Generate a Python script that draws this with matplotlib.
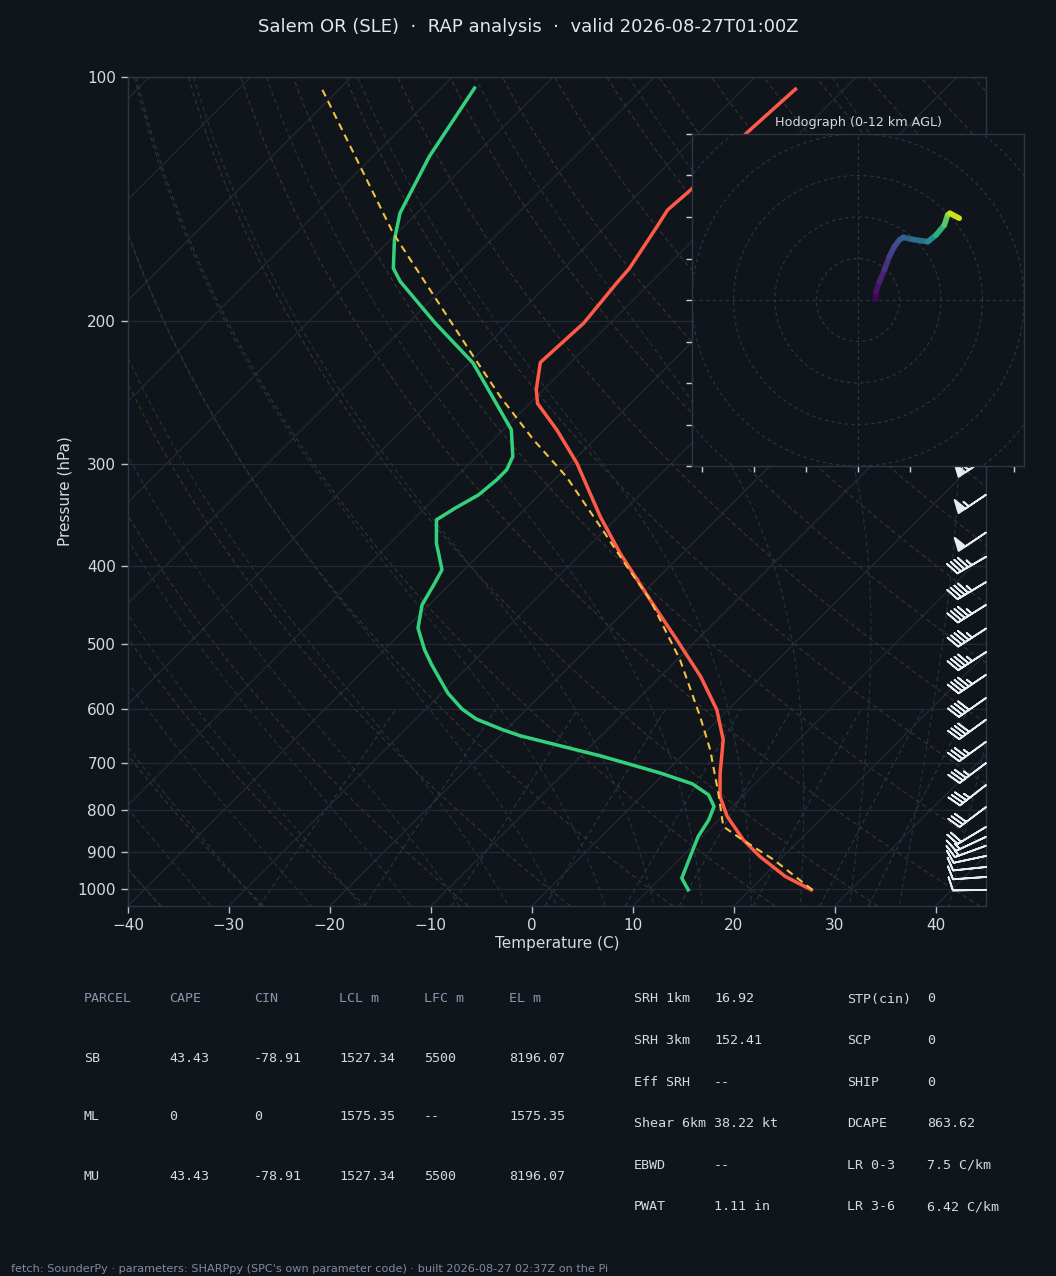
import numpy as np
import matplotlib
matplotlib.use("Agg")
import matplotlib.pyplot as plt
from matplotlib.collections import LineCollection
from matplotlib.ticker import NullLocator, FixedLocator

# ---------------- data ----------------
temp_p = [1003, 965.7, 912.5, 870.3, 814.6, 769.7, 720.3, 655.3, 601.9, 547.7, 493.5,
          440.6, 386.0, 347.9, 299.0, 272.0, 252.5, 242.8, 224.7, 201.0, 179.5, 172.0,
          152.9, 145.8, 137.7, 117.3, 103.5]
temp_c = [26.1, 22.2, 17.7, 14.4, 10.5, 7.8, 5.5, 2.5, -1.1, -6.0, -12.0,
          -18.6, -26.2, -31.8, -39.4, -44.7, -49.2, -50.7, -53.0, -52.6, -53.3, -53.5,
          -54.9, -55.5, -55.2, -55.3, -54.8]

dewp_p = [1003, 970.1, 912.5, 862.2, 822.3, 791.8, 766.0, 742.5, 720.3, 698.9, 685.8,
          647.9, 637.1, 618.0, 600.7, 574.1, 529.8, 507.7, 477.4, 446.9, 420.2, 404.6,
          391.4, 375.1, 351.1, 339.7, 327.1, 313.5, 304.7, 293.5, 272.0, 225.1, 201.0,
          178.6, 172.0, 158.7, 147.1, 125.3, 103.2]
dewp_c = [13.9, 12.1, 10.8, 9.6, 9.0, 8.2, 6.5, 3.8, -0.4, -5.1, -8.1,
          -18.0, -20.3, -24.0, -26.4, -29.4, -33.8, -36.0, -38.8, -40.7, -41.6, -42.2,
          -43.6, -45.4, -47.7, -47.0, -46.0, -45.7, -45.7, -46.4, -49.2, -59.6, -67.3,
          -74.9, -76.9, -79.6, -81.7, -84.4, -86.7]

parcel_p = [1003, 921.0, 866.1, 838.0, 762.3, 674.2, 613.4, 522.3, 440.6, 400.9,
            357.9, 310.7, 279.9, 247.5, 221.0, 155.7, 103.7]
parcel_c = [26.2, 19.4, 13.9, 11.1, 7.3, 2.2, -2.1, -9.7, -18.6, -24.2,
            -30.8, -39.1, -46.0, -53.6, -60.2, -80.4, -101.6]

barb_p = [295, 327, 364, 390, 419, 447, 478, 511, 545, 582, 619, 659, 700, 745,
          793, 839, 863, 885, 911, 940, 967, 1003]
barb_kt = [55, 55, 50, 45, 45, 45, 45, 45, 45, 40, 40, 35, 35, 35,
           30, 20, 15, 15, 10, 10, 10, 10]
barb_dir = [236, 236, 236, 240, 239, 238, 237, 237, 236, 235, 234, 234, 233, 232,
            233, 239, 245, 250, 258, 264, 266, 269]

hodo_u = [8.4, 8.7, 10.3, 12.7, 15.1, 17.5, 19.9, 21.8, 26.3, 33.6, 37.6, 41.6, 43.2, 44.3, 48.8]
hodo_v = [0.3, 4.0, 8.8, 14.5, 20.9, 25.7, 28.9, 30.2, 29.2, 28.1, 31.3, 36.1, 41.0, 41.8, 39.4]
hodo_z = [0.0, 0.3, 0.8, 1.4, 2.0, 2.5, 3.0, 3.3, 4.0, 4.8, 7.0, 8.3, 9.5, 10.2, 12.0]

x_ticks = [-40, -30, -20, -10, 0, 10, 20, 30, 40]
p_ticks = [100, 200, 300, 400, 500, 600, 700, 800, 900, 1000]

title_text = "Salem OR (SLE)  \u00b7  RAP analysis  \u00b7  valid 2026-08-27T01:00Z"
hodo_title = "Hodograph (0-12 km AGL)"

parcel_header = ["PARCEL", "CAPE", "CIN", "LCL m", "LFC m", "EL m"]
parcel_rows = [["SB", "43.43", "-78.91", "1527.34", "5500", "8196.07"],
               ["ML", "0", "0", "1575.35", "--", "1575.35"],
               ["MU", "43.43", "-78.91", "1527.34", "5500", "8196.07"]]
params_left = [("SRH 1km", "16.92"), ("SRH 3km", "152.41"), ("Eff SRH", "--"),
               ("Shear 6km", "38.22 kt"), ("EBWD", "--"), ("PWAT", "1.11 in")]
params_right = [("STP(cin)", "0"), ("SCP", "0"), ("SHIP", "0"),
                ("DCAPE", "863.62"), ("LR 0-3", "7.5 C/km"), ("LR 3-6", "6.42 C/km")]
footer_text = ("fetch: SounderPy \u00b7 parameters: SHARPpy (SPC's own parameter code) "
               "\u00b7 built 2026-08-27 02:37Z on the Pi")

# ---------------- style ----------------
BG = "#10151c"
SPINE = "#2c3644"
GRID = "#212a35"
TXT = "#d4dae2"
HDR = "#8797ab"
FOOT = "#7d8c9e"
RED = "#ff5a48"
GREEN = "#34d17c"
YEL = "#f2c23f"
DRY = "#3b3429"
MOIST = "#26333f"
MIX = "#233846"

W, H = 1056, 1276
DPI = 100
fig = plt.figure(figsize=(W / DPI, H / DPI), dpi=DPI, facecolor=BG)

# axes geometry in pixels
AX_L, AX_R, AX_T, AX_B = 128, 986, 77, 906
ax = fig.add_axes([AX_L / W, 1 - AX_B / H, (AX_R - AX_L) / W, (AX_B - AX_T) / H])
ax.set_facecolor(BG)

XMIN, XMAX = -40, 45
P_BOT, P_TOP = 1050.0, 100.0
K = ((AX_B - AX_T) / (AX_R - AX_L)) * (XMAX - XMIN) / np.log(P_BOT / P_TOP)


def skew(t, p):
    return np.asarray(t, float) + K * np.log(P_BOT / np.asarray(p, float))


ax.set_yscale("log")
ax.set_ylim(P_BOT, P_TOP)
ax.set_xlim(XMIN, XMAX)

pp = np.geomspace(P_BOT, P_TOP, 200)

# horizontal grid
for p in p_ticks:
    ax.axhline(p, color=GRID, lw=0.9, zorder=1)
# isotherms
for t in range(-160, 60, 10):
    ax.plot(skew(np.full_like(pp, t), pp), pp, color=GRID, lw=0.9, zorder=1)

# dry adiabats
for th in np.arange(-40, 200.1, 10):
    tk = (th + 273.15) * (pp / 1000.0) ** 0.2857
    ax.plot(skew(tk - 273.15, pp), pp, color=DRY, lw=0.8, ls=(0, (4, 3)), zorder=1)

# moist adiabats
Rd, Cp, Lv, EPS = 287.04749, 1004.6662, 2.50084e6, 0.6219569


def es(tk):
    tc = tk - 273.15
    return 6.112 * np.exp(17.67 * tc / (tc + 243.5))


def dtdlnp(tk, p):
    e = es(tk)
    rs = EPS * e / max(p - e, 1e-6)
    return (Rd * tk + Lv * rs) / (Cp + Lv * Lv * rs * EPS / (Rd * tk * tk))


def moist_line(t0c, plist):
    out = []
    for direction in (1, -1):
        ps = [p for p in plist if (p <= 1000 if direction == 1 else p >= 1000)]
        ps = sorted(ps, reverse=(direction == 1))
        tk = t0c + 273.15
        lp = np.log(1000.0)
        res = []
        for p in ps:
            target = np.log(p)
            n = max(1, int(abs(target - lp) / 0.01) + 1)
            h = (target - lp) / n
            for _ in range(n):
                pc = np.exp(lp)
                k1 = dtdlnp(tk, pc)
                k2 = dtdlnp(tk + 0.5 * h * k1, np.exp(lp + 0.5 * h))
                k3 = dtdlnp(tk + 0.5 * h * k2, np.exp(lp + 0.5 * h))
                k4 = dtdlnp(tk + h * k3, np.exp(lp + h))
                tk = tk + h * (k1 + 2 * k2 + 2 * k3 + k4) / 6
                lp = lp + h
            res.append((p, tk - 273.15))
        out.extend(res)
    out.sort(key=lambda r: r[0])
    arr = np.array(out)
    return arr[:, 0], arr[:, 1]


mp = list(np.geomspace(P_BOT, P_TOP, 60)) + [1000.0]
for t0 in np.arange(-40, 40.1, 5):
    pr, tr = moist_line(t0, mp)
    ax.plot(skew(tr, pr), pr, color=MOIST, lw=0.8, ls=(0, (4, 3)), zorder=1)

# mixing ratio lines
wp = np.geomspace(P_BOT, 600, 30)
for w in [0.0004, 0.001, 0.002, 0.004, 0.007, 0.01, 0.016, 0.024, 0.032]:
    e = wp * w / (EPS + w)
    lne = np.log(e / 6.112)
    td = 243.5 * lne / (17.67 - lne)
    ax.plot(skew(td, wp), wp, color=MIX, lw=0.8, ls=(0, (4, 3)), zorder=1)

# profiles
ax.plot(skew(temp_c, temp_p), temp_p, color=RED, lw=2.5, zorder=4, solid_joinstyle="round")
ax.plot(skew(dewp_c, dewp_p), dewp_p, color=GREEN, lw=2.5, zorder=4, solid_joinstyle="round")
ax.plot(skew(parcel_c, parcel_p), parcel_p, color=YEL, lw=1.5, ls=(0, (3.5, 2.5)), zorder=4)

# wind barbs at right edge
spd = np.array(barb_kt, float)
dr = np.deg2rad(np.array(barb_dir, float))
bu = -spd * np.sin(dr)
bv = -spd * np.cos(dr)
ax.barbs(np.ones(len(barb_p)), barb_p, bu, bv, transform=ax.get_yaxis_transform(),
         clip_on=False, length=6.9, color="#e8edf2", lw=1.3, zorder=5)

# ticks
ax.yaxis.set_minor_locator(NullLocator())
ax.yaxis.set_major_locator(FixedLocator(p_ticks))
ax.set_yticklabels([str(p) for p in p_ticks])
ax.set_xticks(x_ticks)
ax.set_xticklabels([("\u2212%d" % -t) if t < 0 else str(t) for t in x_ticks])
ax.tick_params(colors=TXT, labelsize=11, length=5, width=1, direction="out")
ax.tick_params(axis="both", which="major", color="#b9c2cc")
for s in ax.spines.values():
    s.set_color(SPINE)
    s.set_linewidth(1.0)
ax.set_xlabel("Temperature (C)", color=TXT, fontsize=11, labelpad=2)
ax.set_ylabel("Pressure (hPa)", color=TXT, fontsize=11, labelpad=4)

# ---------------- hodograph ----------------
HL, HR, HT, HB = 692, 1024, 134, 466
hax = fig.add_axes([HL / W, 1 - HB / H, (HR - HL) / W, (HB - HT) / H])
hax.set_facecolor(BG)
hax.set_xlim(-80, 80)
hax.set_ylim(-80, 80)
hax.set_aspect("equal")
th = np.linspace(0, 2 * np.pi, 300)
for r in [20, 40, 60, 80, 100]:
    hax.plot(r * np.cos(th), r * np.sin(th), color=SPINE, lw=0.8, ls=(0, (3, 3)), zorder=1)
hax.axhline(0, color=SPINE, lw=0.8, ls=(0, (3, 3)), zorder=1)
hax.axvline(0, color=SPINE, lw=0.8, ls=(0, (3, 3)), zorder=1)
pts = np.column_stack([hodo_u, hodo_v])
segs = np.stack([pts[:-1], pts[1:]], axis=1)
zmid = 0.5 * (np.array(hodo_z[:-1]) + np.array(hodo_z[1:]))
lc = LineCollection(segs, cmap="viridis", linewidths=4, capstyle="round", zorder=3)
lc.set_array(zmid)
lc.set_clim(0, 12)
hax.add_collection(lc)
hax.set_xticks([-75, -50, -25, 0, 25, 50, 75])
hax.set_yticks(list(range(-80, 81, 20)))
hax.set_xticklabels([])
hax.set_yticklabels([])
hax.tick_params(colors="#c8d0da", length=4, width=1)
for s in hax.spines.values():
    s.set_color(SPINE)
    s.set_linewidth(1.0)
hax.set_title(hodo_title, color=TXT, fontsize=9.2, pad=6)

# ---------------- texts ----------------
def ftext(x, y, s, **kw):
    fig.text(x / W, 1 - y / H, s, **kw)


ftext(528, 27, title_text, ha="center", va="center", fontsize=13, color="#e2e7ee")

mono = dict(family="DejaVu Sans Mono", fontsize=9.6, va="center", ha="left")
col_x = [84, 169, 254, 339, 424, 509]
for cx, hd in zip(col_x, parcel_header):
    ftext(cx, 999, hd, color=HDR, **mono)
for ri, row in enumerate(parcel_rows):
    for cx, val in zip(col_x, row):
        ftext(cx, 1058 + ri * 59, val, color=TXT, **mono)

for ri, (lab, val) in enumerate(params_left):
    ftext(634, 999 + ri * 41.6, lab, color=TXT, **mono)
    ftext(714, 999 + ri * 41.6, val, color=TXT, **mono)
for ri, (lab, val) in enumerate(params_right):
    ftext(847, 999 + ri * 41.6, lab, color=TXT, **mono)
    ftext(927, 999 + ri * 41.6, val, color=TXT, **mono)

ftext(11, 1269, footer_text, ha="left", va="center", fontsize=8.15, color=FOOT)

fig.savefig("out.png", dpi=DPI, facecolor=BG)
